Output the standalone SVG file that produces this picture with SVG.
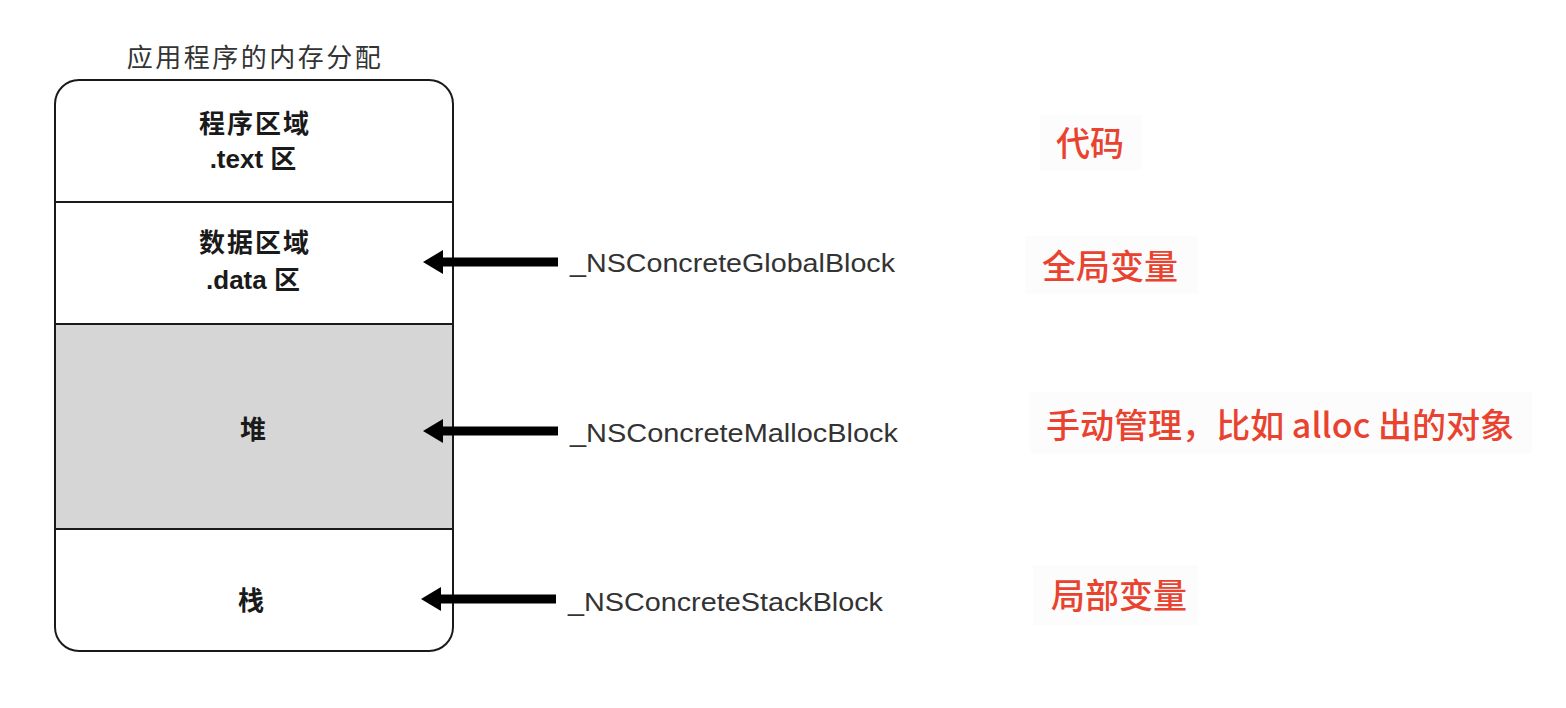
<svg xmlns="http://www.w3.org/2000/svg" width="1566" height="708" viewBox="0 0 1566 708">
  <style>
    .title { font-family: "Noto Sans CJK SC", "Liberation Sans", sans-serif; font-size: 26px; fill: #333; letter-spacing: 2.5px; }
    .sec { font-family: "Liberation Sans", "Noto Sans CJK SC", sans-serif; font-size: 26px; font-weight: bold; fill: #1a1a1a; }
    .cjk { font-family: "Noto Sans CJK SC", sans-serif; letter-spacing: 2px; }
    .lbl { font-family: "Liberation Sans", "Noto Sans", sans-serif; font-size: 26px; fill: #333; }
    .red { font-family: "Noto Sans CJK SC", "Liberation Sans", sans-serif; font-size: 34px; font-weight: 500; fill: #e94330; }
    .bg { fill: #fcfcfc; }
    .edge { stroke: #1a1a1a; stroke-width: 2; fill: none; }
  </style>
  <defs>
    <marker id="head" viewBox="0 0 20 24" refX="1" refY="12" markerWidth="20" markerHeight="24" markerUnits="userSpaceOnUse" orient="auto">
      <path d="M0,0 L20,12 L0,24 Z" fill="#000"/>
    </marker>
  </defs>
  <rect width="1566" height="708" fill="#fff"/>

  <text class="title" x="255" y="67" text-anchor="middle">应用程序的内存分配</text>

  <g id="memory">
    <rect x="55" y="324" width="398" height="205" fill="#d6d6d6"/>
    <rect class="edge" x="55" y="80" width="398" height="571" rx="24"/>
    <line class="edge" x1="55" y1="202" x2="453" y2="202"/>
    <line class="edge" x1="55" y1="324" x2="453" y2="324"/>
    <line class="edge" x1="55" y1="529" x2="453" y2="529"/>
  </g>

  <g id="text-area">
    <text class="sec cjk" x="255" y="133" font-size="26" text-anchor="middle">程序区域</text>
    <text class="sec" x="253" y="168" text-anchor="middle" font-weight="normal">.text <tspan font-family="Noto Sans CJK SC" font-weight="bold">区</tspan></text>
  </g>
  <g id="data-area">
    <text class="sec cjk" x="255" y="252" font-size="26" text-anchor="middle">数据区域</text>
    <text class="sec" x="253" y="289" text-anchor="middle" font-weight="normal">.data <tspan font-family="Noto Sans CJK SC" font-weight="bold">区</tspan></text>
  </g>
  <g id="heap">
    <text class="sec cjk" x="254" y="439" font-size="27" text-anchor="middle">堆</text>
  </g>
  <g id="stack">
    <text class="sec cjk" x="252" y="610" font-size="27" text-anchor="middle">栈</text>
  </g>

  <g id="connectors">
    <line x1="558" y1="262" x2="442" y2="262" stroke="#000" stroke-width="9" marker-end="url(#head)"/>
    <line x1="558" y1="431" x2="442" y2="431" stroke="#000" stroke-width="9" marker-end="url(#head)"/>
    <line x1="556" y1="599" x2="440" y2="599" stroke="#000" stroke-width="9" marker-end="url(#head)"/>
  </g>

  <g id="global-label">
    <text class="lbl" x="570" y="272" textLength="325" lengthAdjust="spacingAndGlyphs">_NSConcreteGlobalBlock</text>
  </g>
  <g id="malloc-label">
    <text class="lbl" x="570" y="442" textLength="328" lengthAdjust="spacingAndGlyphs">_NSConcreteMallocBlock</text>
  </g>
  <g id="stack-label">
    <text class="lbl" x="568" y="611" textLength="315" lengthAdjust="spacingAndGlyphs">_NSConcreteStackBlock</text>
  </g>

  <g id="note-code">
    <rect class="bg" x="1040" y="115" width="102" height="55"/>
    <text class="red" x="1056" y="156">代码</text>
  </g>
  <g id="note-global">
    <rect class="bg" x="1025" y="236" width="173" height="58"/>
    <text class="red" x="1042" y="279">全局变量</text>
  </g>
  <g id="note-heap">
    <rect class="bg" x="1030" y="392" width="502" height="62"/>
    <text class="red" x="1046" y="438" textLength="468" lengthAdjust="spacingAndGlyphs">手动管理，比如 alloc 出的对象</text>
  </g>
  <g id="note-stack">
    <rect class="bg" x="1033" y="565" width="165" height="60"/>
    <text class="red" x="1051" y="608">局部变量</text>
  </g>
</svg>
